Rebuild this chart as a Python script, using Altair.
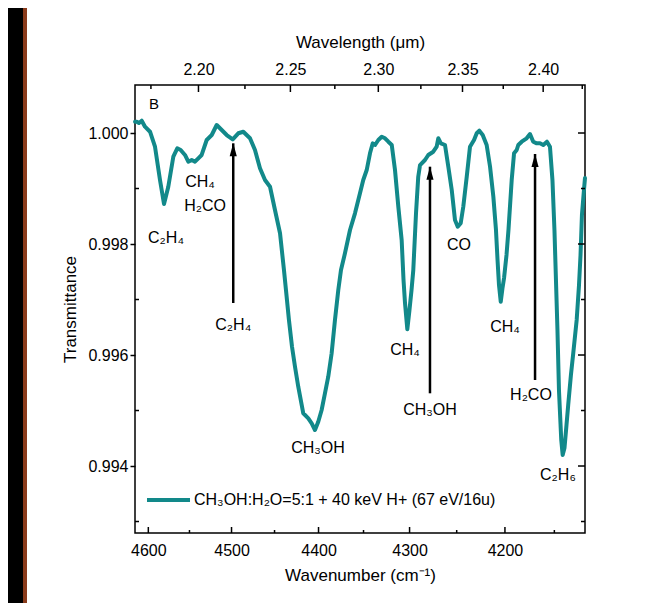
import altair as alt
import pandas as pd

# ---------------- data ----------------
wavenumber = [4616.4, 4614.3, 4611.5, 4608.1, 4604.1, 4597.9, 4591.8, 4585.7, 4580.8, 4575.6,
              4569.5, 4564.7, 4560.6, 4555.4, 4551.4, 4547.3, 4543.4, 4539.4, 4535.4, 4529.4,
              4523.4, 4517.5, 4511.6, 4505.7, 4498.6, 4492.1, 4486.2, 4478.4, 4472.6, 4466.8,
              4461.0, 4455.2, 4449.5, 4443.7, 4439.2, 4436.9, 4433.5, 4430.0, 4426.6, 4422.9,
              4417.2, 4411.5, 4407.7, 4404.0, 4400.3, 4396.5, 4392.8, 4389.1, 4385.3, 4381.6,
              4377.9, 4374.9, 4370.5, 4364.9, 4359.4, 4353.9, 4350.3, 4346.5, 4342.9, 4339.9,
              4337.4, 4333.8, 4330.1, 4326.5, 4322.9, 4319.2, 4315.7, 4312.1, 4308.5, 4306.5,
              4304.9, 4302.4, 4300.1, 4297.9, 4296.0, 4293.1, 4290.7, 4288.8, 4283.5, 4280.0,
              4274.7, 4271.1, 4269.4, 4266.6, 4262.3, 4258.8, 4255.2, 4251.8, 4248.9, 4245.8,
              4243.1, 4239.5, 4236.1, 4231.9, 4229.1, 4226.4, 4222.9, 4218.8, 4215.3, 4211.9,
              4209.2, 4207.6, 4206.1, 4204.3, 4202.5, 4200.9, 4198.4, 4196.4, 4193.1, 4190.7,
              4188.0, 4186.4, 4182.9, 4177.9, 4174.5, 4171.2, 4167.7, 4164.4, 4161.1, 4157.4,
              4154.4, 4151.9, 4149.9, 4148.4, 4146.9, 4145.4, 4143.1, 4141.7, 4139.9, 4137.9,
              4136.2, 4133.5, 4131.2, 4127.8, 4125.5, 4124.0, 4122.6, 4120.6, 4119.6]

transmittance = [1.000204, 1.000204, 1.000180, 1.000222, 1.000114, 1.000023, 0.999753, 0.999153, 0.998721, 0.999032,
                 0.999573, 0.999724, 0.999694, 0.999604, 0.999483, 0.999514, 0.999483, 0.999544, 0.999604, 0.999874,
                 0.999964, 1.000144, 1.000054, 0.999964, 0.999886, 0.999995, 1.000023, 0.999905, 0.999694, 0.999364,
                 0.999153, 0.999032, 0.998613, 0.998193, 0.997532, 0.997171, 0.996631, 0.996150, 0.995789, 0.995429,
                 0.994950, 0.994859, 0.994769, 0.994649, 0.994798, 0.995009, 0.995310, 0.995609, 0.996031, 0.996631,
                 0.997171, 0.997532, 0.997832, 0.998252, 0.998553, 0.998914, 0.999153, 0.999333, 0.999634, 0.999814,
                 0.999784, 0.999874, 0.999933, 0.999905, 0.999843, 0.999784, 0.999333, 0.998672, 0.998072, 0.997351,
                 0.996937, 0.996463, 0.996811, 0.997171, 0.997532, 0.998553, 0.999213, 0.999423, 0.999514, 0.999604,
                 0.999663, 0.999753, 0.999905, 0.999814, 0.999784, 0.999393, 0.998973, 0.998432, 0.998312, 0.998373,
                 0.998672, 0.999213, 0.999753, 0.999874, 0.999995, 1.000041, 0.999964, 0.999784, 0.999393, 0.998852,
                 0.998252, 0.997712, 0.997261, 0.996960, 0.997207, 0.997387, 0.997802, 0.998252, 0.999153, 0.999634,
                 0.999694, 0.999784, 0.999843, 0.999905, 0.999982, 0.999843, 0.999814, 0.999814, 0.999784, 0.999843,
                 0.999753, 0.999153, 0.998252, 0.997351, 0.996450, 0.995369, 0.994468, 0.994198, 0.994324, 0.994739,
                 0.995099, 0.995640, 0.996031, 0.996631, 0.997261, 0.997802, 0.998523, 0.998973, 0.999189]

series_name = "CH\u2083OH:H\u2082O=5:1 + 40 keV H+ (67 eV/16u)"

# annotations (label, wavenumber, transmittance)
ann_text = ["CH\u2084", "H\u2082CO", "C\u2082H\u2084", "C\u2082H\u2084", "CH\u2083OH", "CH\u2084",
            "CH\u2083OH", "CO", "CH\u2084", "H\u2082CO", "C\u2082H\u2086"]
ann_k = [4537.4, 4531.4, 4578.4, 4498.0, 4400.6, 4304.9, 4278.2, 4247.6, 4200.0, 4173.5, 4146.4]
ann_T = [0.999117, 0.998685, 0.998108, 0.996541, 0.994324, 0.996090, 0.995009, 0.997982, 0.996505,
         0.995279, 0.993838]

panel_text = ["B"]
panel_k = [4593.0]
panel_T = [1.000523]

# arrows: wavenumber, tail, tip
arrow_k = [4498.0, 4278.2, 4169.4]
arrow_T_tail = [0.996937, 0.995310, 0.995550]
arrow_T_tip = [0.999814, 0.999393, 0.999622]

# axis ticks
bottom_major = [4600, 4500, 4400, 4300, 4200]
bottom_minor = [4550, 4450, 4350, 4250, 4150]
top_major = [2.20, 2.25, 2.30, 2.35, 2.40]
top_minor = [2.175, 2.225, 2.275, 2.325, 2.375, 2.425]
y_major = [0.994, 0.996, 0.998, 1.000]
y_minor = [0.993, 0.995, 0.997, 0.999]

# ---------------- tables ----------------
curve = pd.DataFrame({"k": wavenumber, "T": transmittance})
curve["lam"] = 1e4 / curve["k"]
curve["series"] = series_name

ann = pd.DataFrame({"label": ann_text, "k": ann_k, "T": ann_T})
ann["lam"] = 1e4 / ann["k"]
panel = pd.DataFrame({"label": panel_text, "k": panel_k, "T": panel_T})
panel["lam"] = 1e4 / panel["k"]

arrows = pd.DataFrame({"k": arrow_k, "T": arrow_T_tail, "Ttip": arrow_T_tip})
arrows["lam"] = 1e4 / arrows["k"]

bmaj = pd.DataFrame({"lam": [1e4 / v for v in bottom_major]})
bmin = pd.DataFrame({"lam": [1e4 / v for v in bottom_minor]})
tmaj = pd.DataFrame({"ktop": [1e4 / v for v in top_major]})
tmin = pd.DataFrame({"ktop": [1e4 / v for v in top_minor]})
ymaj = pd.DataFrame({"T": y_major})
ymin = pd.DataFrame({"T": y_minor})
one = pd.DataFrame({"a": [0]})

# ---------------- scales & axes ----------------
X_SCALE = alt.Scale(domain=[2.16618, 2.42743], nice=False, zero=False)
Y_SCALE = alt.Scale(domain=[0.992793, 1.000865], nice=False, zero=False)
TOP_SCALE = alt.Scale(domain=[4615.2, 4120.7], nice=False, zero=False)

x_axis = alt.Axis(orient="bottom", values=[1e4 / v for v in bottom_major],
                  labelExpr="format(round(10000/datum.value), 'd')",
                  title="Wavenumber (cm\u207b\u00b9)", ticks=False, tickSize=0, domain=False,
                  grid=False, labelFontSize=16, labelPadding=9, titleFontSize=17,
                  titlePadding=9, labelFlush=False, labelOverlap=False)
top_axis = alt.Axis(orient="top", values=[1e4 / v for v in top_major],
                    labelExpr="format(10000/datum.value, '.2f')",
                    title="Wavelength (\u03bcm)", ticks=False, tickSize=0, domain=False,
                    grid=False, labelFontSize=16, labelPadding=8, titleFontSize=17,
                    titlePadding=10, labelFlush=False, labelOverlap=False)
y_axis = alt.Axis(values=y_major, format=".3f", tickSize=5, tickWidth=1.5, tickColor="black",
                  domain=False, grid=False, labelFontSize=16, labelPadding=2,
                  title="Transmittance", titleFontSize=17, titlePadding=8)

X = alt.X("lam:Q", scale=X_SCALE, axis=x_axis)
Y = alt.Y("T:Q", scale=Y_SCALE, axis=y_axis)
XT = alt.X("ktop:Q", scale=TOP_SCALE, axis=top_axis)

TEAL = "#12898a"
BROWN = "#8a3b1b"

# ---------------- frame decoration ----------------
band = alt.Chart(one).mark_rect(color="black").encode(
    x=alt.value(-127), x2=alt.value(-112), y=alt.value(-77), y2=alt.value(518))
band_edge = alt.Chart(one).mark_rect(color=BROWN).encode(
    x=alt.value(-112), x2=alt.value(-108), y=alt.value(-77), y2=alt.value(518))

# ---------------- main layers ----------------
line = alt.Chart(curve).mark_line(strokeWidth=4, strokeJoin="round", strokeCap="round").encode(
    x=X, y=Y,
    color=alt.Color("series:N", scale=alt.Scale(range=[TEAL]),
                    legend=alt.Legend(orient="none", legendX=10, legendY=391.5, title=None,
                                      symbolType="stroke", symbolSize=1849, symbolStrokeWidth=4,
                                      labelFontSize=16, labelOffset=2, padding=0, labelLimit=600,
                                      labelColor="black")),
    order="k:Q",
)
# reverse order so the path runs with the x axis
line = line.encode(order=alt.Order("lam:Q"))

bottom_major_ticks = alt.Chart(bmaj).mark_rule(color="black", strokeWidth=1.5).encode(
    x=X, y=alt.value(448), y2=alt.value(442))
bottom_minor_ticks = alt.Chart(bmin).mark_rule(color="black", strokeWidth=1.5).encode(
    x=X, y=alt.value(448), y2=alt.value(445))
left_minor_ticks = alt.Chart(ymin).mark_rule(color="black", strokeWidth=1.5).encode(
    y=Y, x=alt.value(0), x2=alt.value(4))
right_major_ticks = alt.Chart(ymaj).mark_rule(color="black", strokeWidth=1.5).encode(
    y=Y, x=alt.value(450), x2=alt.value(443))
right_minor_ticks = alt.Chart(ymin).mark_rule(color="black", strokeWidth=1.5).encode(
    y=Y, x=alt.value(450), x2=alt.value(446))

arrow_shafts = alt.Chart(arrows).mark_rule(color="black", strokeWidth=2.5).encode(
    x=X, y=Y, y2=alt.Y2("Ttip:Q"))
arrow_heads = alt.Chart(arrows).mark_point(
    shape="M0,-1L-0.55,1L0.55,1Z", filled=True, size=169, color="black", opacity=1,
    yOffset=6.5).encode(x=X, y=alt.Y("Ttip:Q", scale=Y_SCALE, axis=y_axis))

labels = alt.Chart(ann).mark_text(fontSize=16, color="black", align="center",
                                  baseline="middle").encode(x=X, y=Y, text="label:N")
panel_label = alt.Chart(panel).mark_text(fontSize=15, color="black", align="center",
                                         baseline="middle").encode(x=X, y=Y, text="label:N")

bottom_group = alt.layer(band, band_edge, line, bottom_major_ticks, bottom_minor_ticks,
                         left_minor_ticks, right_major_ticks, right_minor_ticks,
                         arrow_shafts, arrow_heads, labels, panel_label)

top_major_ticks = alt.Chart(tmaj).mark_rule(color="black", strokeWidth=1.5).encode(
    x=XT, y=alt.value(0), y2=alt.value(7))
top_minor_ticks = alt.Chart(tmin).mark_rule(color="black", strokeWidth=1.5).encode(
    x=XT, y=alt.value(0), y2=alt.value(4))
top_group = alt.layer(top_major_ticks, top_minor_ticks)

chart = alt.layer(bottom_group, top_group).resolve_scale(x="independent").properties(
    width=450, height=448,
    padding={"left": 127, "top": 77, "right": 79, "bottom": 70},
    autosize=alt.AutoSizeParams(type="none"),
).configure(
    font="Liberation Sans", background="white"
).configure_view(
    stroke="black", strokeWidth=1.5
).configure_axis(
    labelColor="black", titleColor="black", titleFontWeight="normal"
)

chart.save("out.html", embed_options={"renderer": "svg", "actions": False})
